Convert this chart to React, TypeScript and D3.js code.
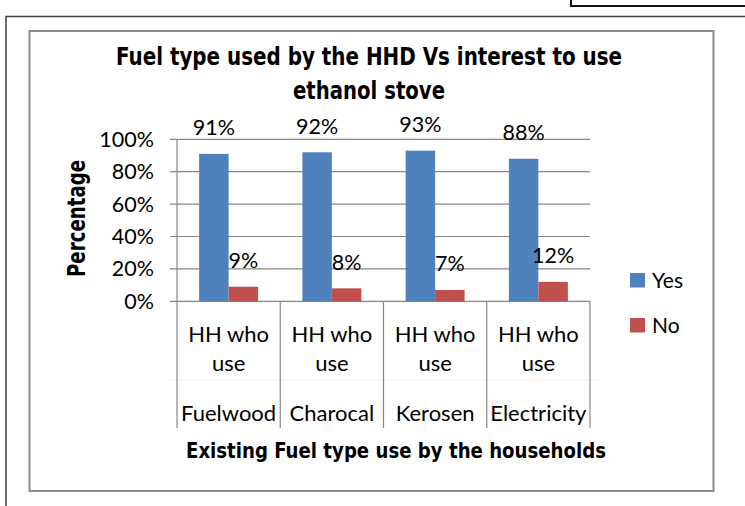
import React from "react";
import * as d3 from "d3";

const categories = ["Fuelwood", "Charocal", "Kerosen", "Electricity"];
const seriesNames = ["Yes", "No"];
const yesValues = [91, 92, 93, 88];
const noValues = [9, 8, 7, 12];
const yTicks = [0, 20, 40, 60, 80, 100];
const titleLines = ["Fuel type used by the HHD Vs interest to use", "ethanol stove"];
const yTitle = "Percentage";
const xTitle = "Existing Fuel type use by the households";
const labelPrefix = ["HH who", "use"];

const colors: Record<string, string> = { Yes: "#4F81BD", No: "#C0504D" };
const W = 745;
const H = 506;
const PLOT = { left: 177, right: 590, top: 139.3, bottom: 301.3 };
const GRID = "#868686";
const BODY = "Lato, 'Open Sans', sans-serif";
const BOLD = "'Liberation Sans Narrow', 'DejaVu Sans Condensed', sans-serif";

export default function App() {
  const x = d3.scaleBand<string>().domain(categories).range([PLOT.left, PLOT.right]).paddingInner(0).paddingOuter(0);
  const xs = d3.scaleBand<string>().domain(seriesNames).range([0, x.bandwidth()]).paddingInner(0).paddingOuter(0.75);
  const y = d3.scaleLinear().domain([0, 100]).range([PLOT.bottom, PLOT.top]);
  const data: Record<string, number[]> = { Yes: yesValues, No: noValues };
  const boundaries = [...categories.map((c) => x(c) as number), PLOT.right];

  return (
    <svg width={W} height={H} style={{ position: "absolute", left: 0, top: 0, background: "#fff" }}>
      <rect x={0} y={0} width={W} height={H} fill="#fff" />
      {/* page lines */}
      <path d="M571,0 V6 H745" fill="none" stroke="#111" strokeWidth={2} />
      <path d={`M6,506 V16.5 H745`} fill="none" stroke="#404040" strokeWidth={1.5} />
      {/* chart frame */}
      <rect x={29.5} y={31} width={684} height={460} fill="#fff" stroke="#8c8c8c" strokeWidth={2} />

      {/* titles */}
      <text x={369} y={65} textAnchor="middle" fontFamily={BOLD} fontWeight="bold" fontSize={24} fill="#000"
        textLength={506} lengthAdjust="spacingAndGlyphs">{titleLines[0]}</text>
      <text x={369} y={99} textAnchor="middle" fontFamily={BOLD} fontWeight="bold" fontSize={24} fill="#000"
        textLength={152} lengthAdjust="spacingAndGlyphs">{titleLines[1]}</text>

      {/* gridlines */}
      {yTicks.map((t) => (
        <line key={"g" + t} x1={170} x2={PLOT.right} y1={y(t)} y2={y(t)} stroke={GRID} strokeWidth={1.2} />
      ))}
      {/* faint line in label area */}
      <line x1={170} x2={600} y1={380} y2={380} stroke="#f2f2f2" strokeWidth={1} />
      {/* axis & category separators */}
      <line x1={PLOT.left} x2={PLOT.left} y1={PLOT.top} y2={428} stroke={GRID} strokeWidth={1.2} />
      {boundaries.slice(1).map((b, i) => (
        <line key={"b" + i} x1={b} x2={b} y1={PLOT.bottom} y2={428} stroke={GRID} strokeWidth={1.2} />
      ))}

      {/* y tick labels */}
      {yTicks.map((t) => (
        <text key={"t" + t} x={154} y={y(t) + 7.5} textAnchor="end" fontFamily={BODY} fontSize={21.5} fill="#000">
          {t}%
        </text>
      ))}

      {/* bars */}
      {categories.map((c, i) =>
        seriesNames.map((s) => {
          const v = data[s][i];
          const bx = (x(c) as number) + (xs(s) as number);
          return (
            <g key={c + s}>
              <rect x={bx} y={y(v)} width={xs.bandwidth()} height={y(0) - y(v)} fill={colors[s]} />
              <text x={bx + xs.bandwidth() / 2} y={y(v) - 18.5} textAnchor="middle" fontFamily={BODY} fontSize={21.5} fill="#000">
                {v}%
              </text>
            </g>
          );
        })
      )}

      {/* category labels */}
      {categories.map((c) => {
        const cx = (x(c) as number) + x.bandwidth() / 2;
        return (
          <g key={"l" + c} fontFamily={BODY} fontSize={22} fill="#000" textAnchor="middle">
            <text x={cx} y={341.7}>{labelPrefix[0]}</text>
            <text x={cx} y={370.5}>{labelPrefix[1]}</text>
            <text x={cx} y={420.7}>{c}</text>
          </g>
        );
      })}

      {/* axis titles */}
      <text transform={`translate(85,218.5) rotate(-90)`} textAnchor="middle" fontFamily={BOLD} fontWeight="bold"
        fontSize={24} fill="#000" textLength={117} lengthAdjust="spacingAndGlyphs">{yTitle}</text>
      <text x={396} y={457.5} textAnchor="middle" fontFamily={BOLD} fontWeight="bold" fontSize={21} fill="#000"
        textLength={420} lengthAdjust="spacingAndGlyphs">{xTitle}</text>

      {/* legend */}
      {seriesNames.map((s, i) => (
        <g key={"lg" + s}>
          <rect x={630} y={273 + i * 45} width={15} height={14.5} fill={colors[s]} />
          <text x={652} y={287.7 + i * 45} fontFamily={BODY} fontSize={21} fill="#000">{s}</text>
        </g>
      ))}
    </svg>
  );
}
